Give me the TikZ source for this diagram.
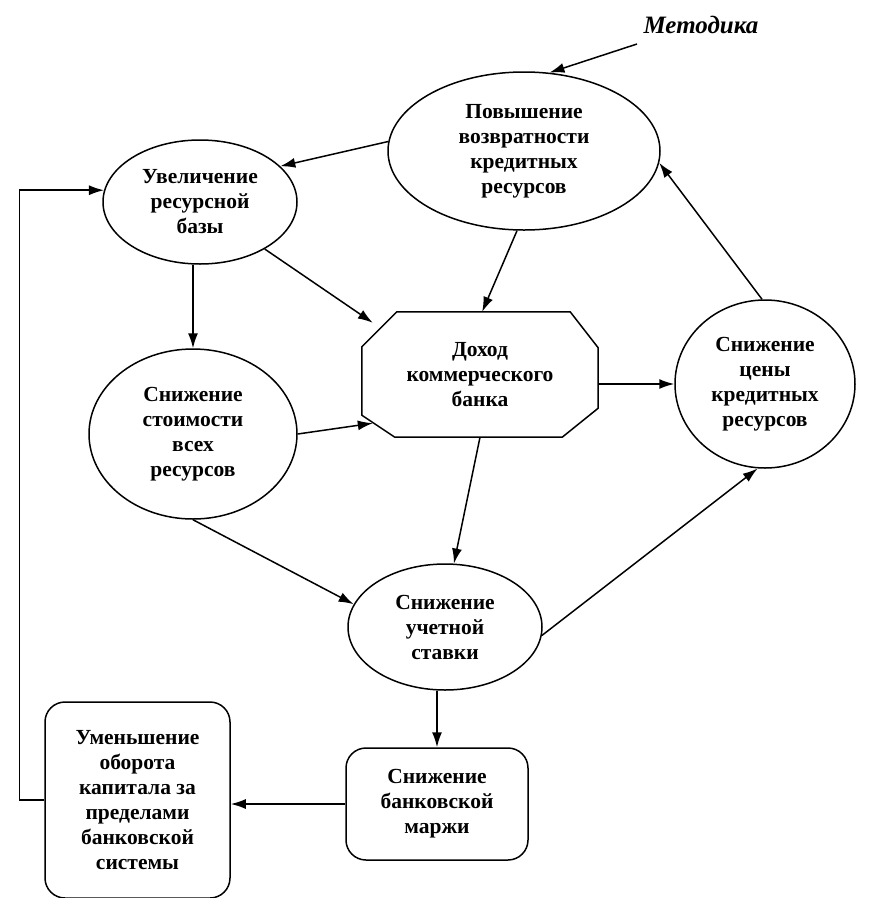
\documentclass[tikz,border=0pt]{standalone}
\usepackage{fontspec}
\setmainfont{Liberation Serif}
\usetikzlibrary{shapes.geometric,arrows.meta,calc}
\begin{document}
\begin{tikzpicture}[x=1pt,y=-1pt,
  every node/.style={font=\fontsize{21.5}{25}\selectfont\bfseries, align=center, inner sep=0pt},
  ell/.style={draw, ellipse, line width=1.5pt},
  rbox/.style={draw, rectangle, rounded corners=20pt, line width=1.5pt},
  arr/.style={line width=1.5pt, -{Latex[length=15pt,width=10pt]}},
  ln/.style={line width=1.5pt}]
\useasboundingbox (0,0) rectangle (869,898);
\node[font=\fontsize{25}{29}\selectfont\bfseries\itshape] (meth) at (701,25) {Методика};
\coordinate (mstart) at (637,44);
\node[ell, minimum width=272pt, minimum height=158pt] (pov) at (524,151) {Повышение\\возвратности\\кредитных\\ресурсов};
\node[ell, minimum width=194pt, minimum height=124pt] (uvel) at (200,202) {Увеличение\\ресурсной\\базы};
\node[rectangle, minimum width=236pt, minimum height=125pt] (doh) at (480,374.5) {Доход\\коммерческого\\банка};
\draw[ln] ($(doh.north west)+(35,0)$) -- ($(doh.north east)+(-28,0)$) -- ($(doh.north east)+(0,36)$)
  -- ($(doh.south east)+(0,-29)$) -- ($(doh.south east)+(-36,0)$) -- ($(doh.south west)+(33,0)$)
  -- ($(doh.south west)+(0,-22)$) -- ($(doh.north west)+(0,35)$) -- cycle;
\coordinate (dohul) at ($(doh.north west)+(11,11)$);
\coordinate (dohll) at ($(doh.south west)+(11,-14)$);
\node[ell, minimum width=208pt, minimum height=170pt] (snst) at (193,434) {Снижение\\стоимости\\всех\\ресурсов};
\node[ell, minimum width=180pt, minimum height=168pt] (snce) at (765,384) {Снижение\\цены\\кредитных\\ресурсов};
\node[ell, minimum width=194pt, minimum height=126pt] (uch) at (445,627) {Снижение\\учетной\\ставки};
\node[rbox, minimum width=182pt, minimum height=112pt] (marzh) at (437,804) {Снижение\\банковской\\маржи};
\node[rbox, minimum width=185pt, minimum height=196pt] (umen) at (137.5,800) {Уменьшение\\оборота\\капитала за\\пределами\\банковской\\системы};

\draw[arr] (mstart) -- (pov.72);
\draw[arr] (pov.176) -- (uvel.24);
\draw[arr] (umen.west) -- ++(-25,0) |- (uvel.173);
\draw[arr] (snst.north |- uvel.south) -- (snst.north);
\draw[arr] (uvel.-36) -- (dohul);
\draw[arr] (pov.265) -- (doh.88);
\draw[arr] (doh.east |- snce.west) -- (snce.west);
\draw[arr] (snce.92) -- (pov.-5);
\draw[arr] (snst.east) -- (dohll);
\draw[arr] (doh.south) -- (uch.82);
\draw[arr] (snst.south) -- (uch.166);
\draw[arr] (uch.-5) -- (snce.265);
\draw[arr] (marzh.north |- uch.south) -- (marzh.north);
\draw[arr] (marzh.west) -- (marzh.west -| umen.east);
\end{tikzpicture}
\end{document}
